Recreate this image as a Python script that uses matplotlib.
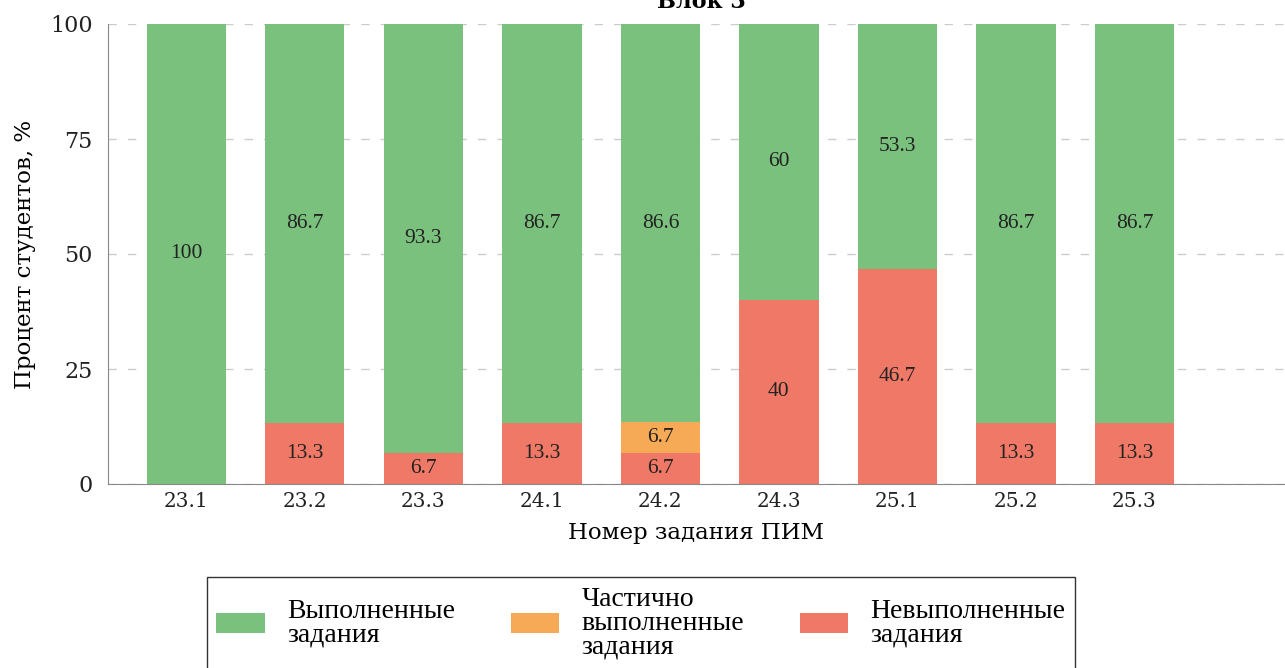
import numpy as np
import matplotlib
matplotlib.use("Agg")
import matplotlib.pyplot as plt

plt.rcParams['font.family'] = ['DejaVu Serif']

# data
tasks = ['23.1', '23.2', '23.3', '24.1', '24.2', '24.3', '25.1', '25.2', '25.3']
done = [100, 86.7, 93.3, 86.7, 86.6, 60, 53.3, 86.7, 86.7]
partial = [0, 0, 0, 0, 6.7, 0, 0, 0, 0]
failed = [0, 13.3, 6.7, 13.3, 6.7, 40, 46.7, 13.3, 13.3]

c_done = '#7bc17e'
c_partial = '#f6aa56'
c_failed = '#ef7866'

fig = plt.figure(figsize=(12.85, 6.68), dpi=100)
ax = fig.add_axes([108 / 1285, 1 - 484 / 668, 1 - 108 / 1285, (484 - 24) / 668])

x = np.arange(len(tasks))
w = 0.67
failed = np.array(failed)
partial = np.array(partial)
done = np.array(done)

b1 = ax.bar(x, failed, w, color=c_failed, label='Невыполненные\nзадания', zorder=2)
b2 = ax.bar(x, partial, w, bottom=failed, color=c_partial,
            label='Частично\nвыполненные\nзадания', zorder=2)
b3 = ax.bar(x, done, w, bottom=failed + partial, color=c_done,
            label='Выполненные\nзадания', zorder=2)

for bars, vals, bottoms in [(b1, failed, np.zeros(len(x))), (b2, partial, failed),
                            (b3, done, failed + partial)]:
    for xi, v, b in zip(x, vals, bottoms):
        if v > 0:
            ax.text(xi, b + v / 2, f'{v:g}', ha='center', va='center',
                    fontsize=15.5, family='Liberation Serif', color='#222222', zorder=3)

ax.set_ylim(0, 100)
ax.set_xlim(-0.66, 9.27)
ax.set_yticks([0, 25, 50, 75, 100])
ax.set_xticks(x)
ax.set_xticklabels(tasks)
ax.tick_params(length=0, labelsize=14.5, colors='#222222')
ax.tick_params(axis='y', labelsize=16, pad=11)
ax.tick_params(axis='x', pad=6)
ax.yaxis.grid(True, linestyle=(0, (6, 8)), color='#cccccc', linewidth=1, zorder=0)
ax.set_axisbelow(True)
for s in ['top', 'right']:
    ax.spines[s].set_visible(False)
for s in ['left', 'bottom']:
    ax.spines[s].set_color('#888888')

ax.set_ylabel('Процент студентов, %', fontsize=16.5, labelpad=10)
ax.set_xlabel('Номер задания ПИМ', fontsize=16.5, labelpad=8)

fig.text(701 / 1285, 1 - 8 / 668, 'Блок 3', ha='center', va='baseline',
         fontsize=16, fontweight='bold')

handles = [b3, b2, b1]
labels = [h.get_label() for h in handles]
leg = fig.legend(handles, labels, loc='upper center', ncol=3,
                 bbox_to_anchor=(641 / 1285, 1 - 577 / 668), borderaxespad=0,
                 frameon=True, fancybox=False, edgecolor='black',
                 prop={'family': 'Liberation Serif', 'size': 20},
                 handlelength=1.75, handleheight=0.7, handletextpad=0.8,
                 columnspacing=2.0, borderpad=0.35, labelspacing=0.3)
for t in leg.get_texts():
    t.set_linespacing(0.95)
leg.get_frame().set_linewidth(1.0)

fig.savefig('out.png', dpi=100)
